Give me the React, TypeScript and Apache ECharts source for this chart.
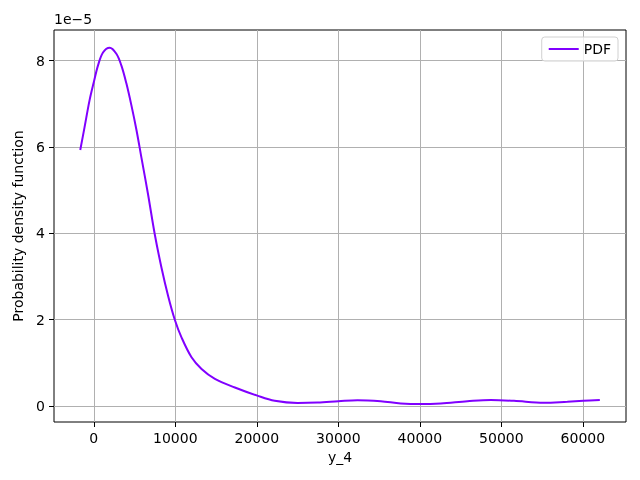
import React, { useEffect, useRef } from 'react';
import * as echarts from 'echarts';

// x values of the curve (y_4)
const xValues = [
  -1660, -1130, -520, 0, 520, 1130, 1950, 2770, 3380, 3990, 4610, 5230, 5840,
  6660, 7480, 8300, 9120, 9940, 10760, 11990, 13220, 14860, 17310, 20060,
  22200, 25000, 27450, 30000, 32350, 35200, 37660, 40100, 42560, 45830,
  48700, 51550, 55220, 58090, 60050, 62080,
];
// PDF values, in units of 1e-5
const pdfValues = [
  5.93, 6.46, 7.08, 7.5, 7.89, 8.19, 8.3, 8.16, 7.89, 7.48, 6.97, 6.4, 5.76,
  4.9, 3.98, 3.21, 2.55, 2.0, 1.59, 1.13, 0.86, 0.63, 0.43, 0.24,
  0.12, 0.07, 0.08, 0.11, 0.135, 0.11, 0.06, 0.045, 0.06, 0.11,
  0.14, 0.12, 0.075, 0.1, 0.12, 0.14,
];
const xTicks = [0, 10000, 20000, 30000, 40000, 50000, 60000];
const yTicks = [0, 2, 4, 6, 8];

const FONT = 'DejaVu Sans';

const App: React.FC = () => {
  const chartRef: any = useRef();

  useEffect(() => {
    const chart = echarts.init(chartRef.current, undefined, { renderer: 'svg' });
    const option = {
      animation: false,
      textStyle: { fontFamily: FONT },
      grid: {
        left: 54, right: 14, top: 30, bottom: 58,
        show: true, borderColor: '#000', borderWidth: 1, backgroundColor: 'transparent',
      },
      graphic: [
        {
          type: 'text', left: 54, top: 12,
          style: { text: '1e\u22125', fontSize: 14, fontFamily: FONT, fill: '#000' },
        },
      ],
      legend: {
        right: 22, top: 37,
        data: [{ name: 'PDF', icon: 'rect' }],
        itemWidth: 30, itemHeight: 2,
        padding: [5, 7, 5, 7],
        borderColor: '#d0d0d0', borderWidth: 1, borderRadius: 3,
        backgroundColor: 'rgba(255,255,255,0.8)',
        textStyle: { fontSize: 14, fontFamily: FONT, color: '#000' },
      },
      xAxis: {
        type: 'value',
        min: -4880, max: 65290,
        name: 'y_4', nameLocation: 'middle', nameGap: 28,
        nameTextStyle: { fontSize: 14, fontFamily: FONT, color: '#000' },
        axisLine: { show: false, onZero: false },
        axisTick: { show: true, length: 5, lineStyle: { color: '#000' }, customValues: xTicks },
        axisLabel: {
          fontSize: 14, color: '#000', margin: 9, customValues: xTicks,
          formatter: (v: number) => String(v),
        },
        splitLine: { show: true, lineStyle: { color: '#b0b0b0', width: 1 } },
      },
      yAxis: {
        type: 'value',
        min: -0.37, max: 8.71,
        name: 'Probability density function', nameLocation: 'middle', nameGap: 25,
        nameTextStyle: { fontSize: 14, fontFamily: FONT, color: '#000' },
        axisLine: { show: false, onZero: false },
        axisTick: { show: true, length: 5, lineStyle: { color: '#000' }, customValues: yTicks },
        axisLabel: {
          fontSize: 14, color: '#000', margin: 9, customValues: yTicks,
          formatter: (v: number) => String(v),
        },
        splitLine: { show: true, lineStyle: { color: '#b0b0b0', width: 1 } },
      },
      series: [
        {
          name: 'PDF',
          type: 'line',
          smooth: 0.35,
          showSymbol: false,
          data: xValues.map((x, i) => [x, pdfValues[i]]),
          lineStyle: { color: '#8000ff', width: 2 },
          itemStyle: { color: '#8000ff' },
        },
      ],
    };
    chart.setOption(option);
    return () => {
      chart.dispose();
    };
  });

  return (
    <div
      ref={chartRef}
      style={{ position: 'fixed', left: 0, top: 0, width: 640, height: 480 }}
    ></div>
  );
};

export default App;
